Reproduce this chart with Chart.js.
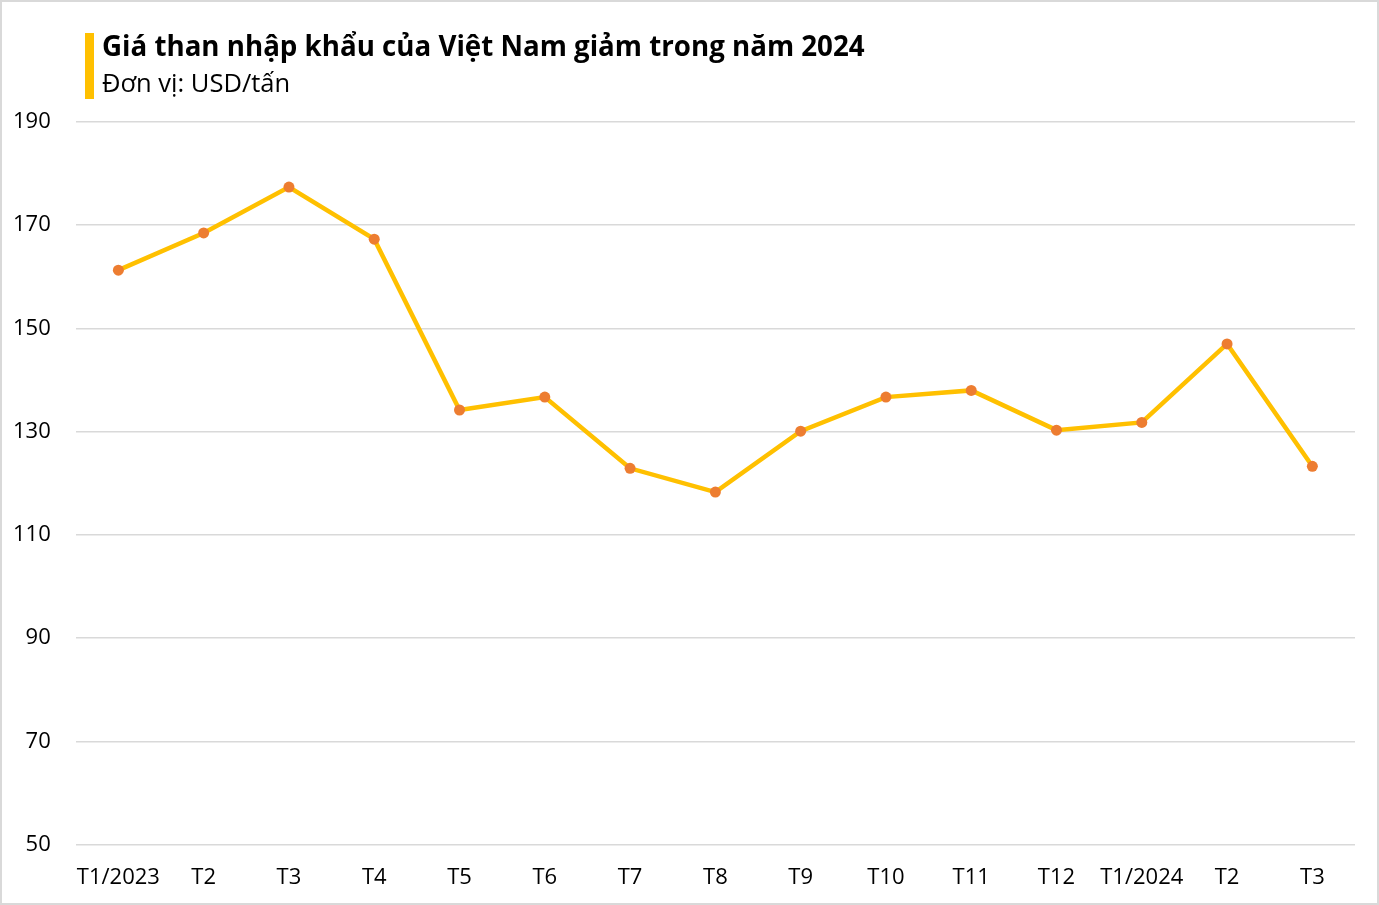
<!DOCTYPE html>
<html>
<head>
<meta charset="utf-8">
<script src="https://cdn.jsdelivr.net/npm/chart.js@4"></script>
<style>
html,body{margin:0;padding:0;background:#fff;}
#wrap{position:relative;width:1379px;height:905px;box-sizing:border-box;border:2px solid #d9d9d9;background:#fff;}
#c{position:absolute;left:0;top:0;}
</style>
</head>
<body>
<div id="wrap"><canvas id="c" width="1375" height="901"></canvas></div>
<script>
const titleText = "Giá than nhập khẩu của Việt Nam giảm trong năm 2024";
const subtitleText = "Đơn vị: USD/tấn";
const categories = ["T1/2023","T2","T3","T4","T5","T6","T7","T8","T9","T10","T11","T12","T1/2024","T2","T3"];
const prices = [161.3,168.5,177.4,167.3,134.2,136.7,122.9,118.3,130.1,136.7,138.0,130.3,131.8,147.0,123.3];
const yTicks = [50,70,90,110,130,150,170,190];

const FONT = "'Open Sans', 'Noto Sans', sans-serif";

const titlePlugin = {
  id: 'titleBar',
  afterDraw(chart) {
    const ctx = chart.ctx;
    ctx.save();
    ctx.fillStyle = '#FFC000';
    ctx.fillRect(83, 31, 9, 66);
    ctx.fillStyle = '#000';
    ctx.textBaseline = 'alphabetic';
    ctx.textAlign = 'left';
    ctx.font = "bold 27.7px " + FONT;
    ctx.fillText(titleText, 100, 54);
    ctx.font = "25.5px " + FONT;
    ctx.fillText(subtitleText, 100, 90);
    ctx.restore();
  }
};

new Chart(document.getElementById('c'), {
  type: 'line',
  data: {
    labels: categories,
    datasets: [{
      data: prices,
      borderColor: '#FFC000',
      borderWidth: 4.5,
      pointBackgroundColor: '#ED7D31',
      pointBorderColor: '#ED7D31',
      pointRadius: 5.5,
      pointBorderWidth: 0,
      tension: 0,
      fill: false
    }]
  },
  options: {
    responsive: false,
    animation: false,
    layout: { padding: { left: -14, right: 22, top: 120, bottom: -8 } },
    plugins: { legend: { display: false }, title: { display: false }, tooltip: { enabled: false } },
    scales: {
      x: {
        offset: true,
        grid: { display: false, drawTicks: false },
        border: { display: false },
        ticks: { color: '#000', font: { family: FONT, size: 22 }, padding: 20, maxRotation: 0, autoSkip: false }
      },
      y: {
        min: 50, max: 190,
        afterBuildTicks(axis) { axis.ticks = yTicks.map(v => ({ value: v })); },
        grid: { color: '#d9d9d9', lineWidth: 1.5, drawTicks: false },
        border: { display: false },
        ticks: { color: '#000', font: { family: FONT, size: 22 }, padding: 25 }
      }
    }
  },
  plugins: [titlePlugin]
});
</script>
</body>
</html>
